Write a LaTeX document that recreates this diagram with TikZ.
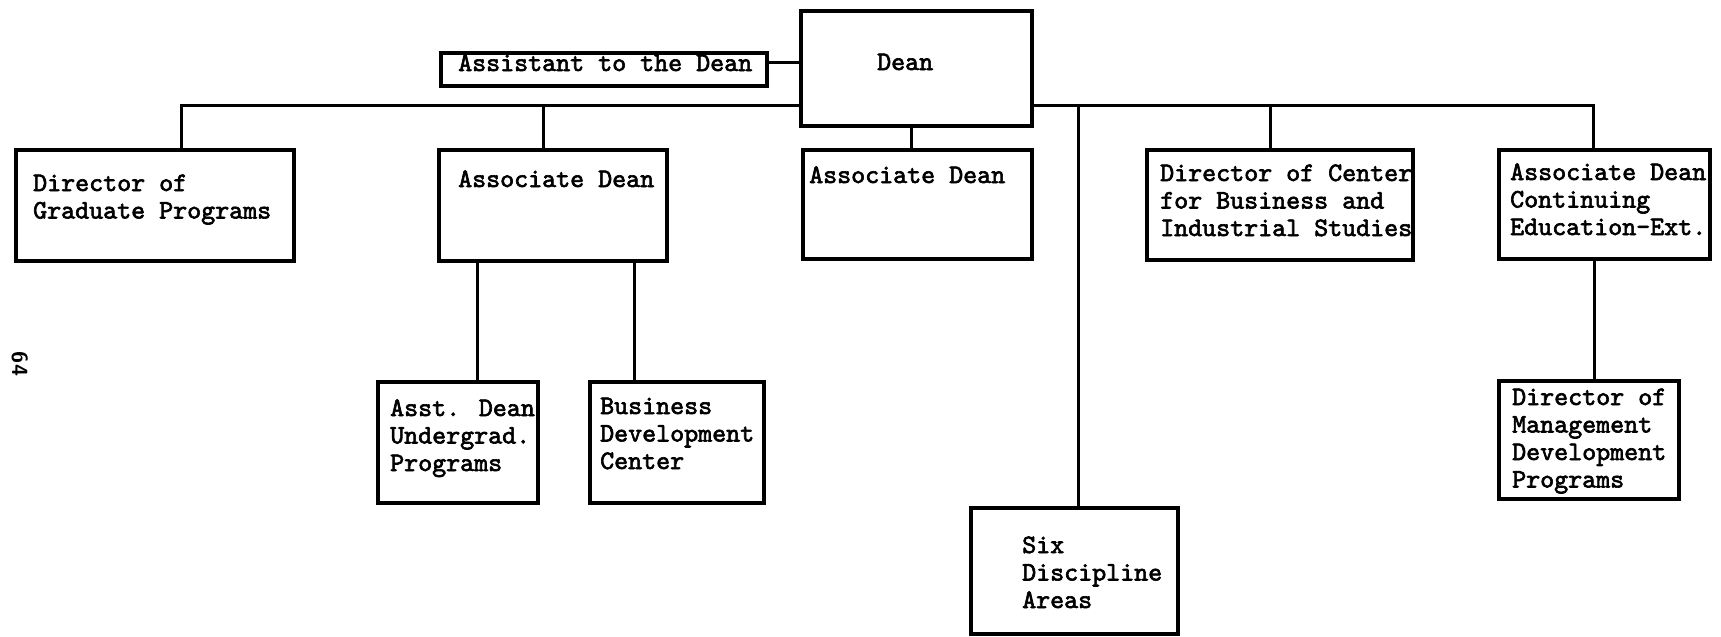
\documentclass[tikz,border=0pt]{standalone}
\usepackage{fontspec}
\newfontfamily\typewriter[FakeBold=2.4]{lmmono10-regular.otf}
\begin{document}
\newcommand\orgfont{\typewriter\fontsize{26.67}{27.5}\selectfont}
\newcommand\ml[1]{\begin{tabular}[t]{@{}l@{}}#1\end{tabular}}
\begin{tikzpicture}[x=1pt,y=-1pt,
  box/.style={draw, line width=3.4pt, anchor=north west, inner sep=0pt, outer sep=0pt},
  lbl/.style={anchor=base west, inner sep=0pt, font=\orgfont},
  link/.style={line width=3pt}]
\useasboundingbox (0,0) rectangle (1721,637);
\coordinate (bus) at (0,105);

% boxes
\node[box, minimum width=326pt, minimum height=33pt]  (asst) at (441,53) {};
\node[box, minimum width=231pt, minimum height=115pt] (dean) at (801,11) {};
\node[box, minimum width=278pt, minimum height=111pt] (dgp)  at (16,150) {};
\node[box, minimum width=228pt, minimum height=111pt] (ad1)  at (439,150) {};
\node[box, minimum width=229pt, minimum height=109pt] (ad2)  at (803,150) {};
\node[box, minimum width=266pt, minimum height=110pt] (dcb)  at (1147,150) {};
\node[box, minimum width=211pt, minimum height=109pt] (adc)  at (1499,150) {};
\node[box, minimum width=160pt, minimum height=121pt] (adu)  at (378,382) {};
\node[box, minimum width=174pt, minimum height=121pt] (bdc)  at (590,382) {};
\node[box, minimum width=207pt, minimum height=126pt] (six)  at (971,508) {};
\node[box, minimum width=180pt, minimum height=118pt] (dmd)  at (1499,381) {};

% texts (first baseline placed below each box's top edge)
\node[lbl] (asst-t) at ([xshift=17pt,yshift=-18pt]asst.north west) {Assistant to the Dean};
\node[lbl] (dean-t) at ([xshift=76pt,yshift=-59pt]dean.north west) {Dean};
\node[lbl] (dgp-t)  at ([xshift=17pt,yshift=-41pt]dgp.north west) {\ml{Director of\\Graduate Programs}};
\node[lbl] (ad1-t)  at ([xshift=19pt,yshift=-37pt]ad1.north west) {Associate Dean};
\node[lbl] (ad2-t)  at ([xshift=6pt,yshift=-33pt]ad2.north west) {Associate Dean};
\node[lbl] (dcb-t)  at ([xshift=13pt,yshift=-31pt]dcb.north west) {\ml{Director of Center\\for Business and\\Industrial Studies}};
\node[lbl] (adc-t)  at ([xshift=11pt,yshift=-30pt]adc.north west) {\ml{Associate Dean\\Continuing\\Education-Ext.}};
\node[lbl] (adu-t)  at ([xshift=12pt,yshift=-34pt]adu.north west) {\ml{Asst. Dean\\Undergrad.\\Programs}};
\node[lbl] (bdc-t)  at ([xshift=10pt,yshift=-32pt]bdc.north west) {\ml{Business\\Development\\Center}};
\node[lbl] (six-t)  at ([xshift=51pt,yshift=-45pt]six.north west) {\ml{Six\\Discipline\\Areas}};
\node[lbl] (dmd-t)  at ([xshift=13pt,yshift=-24pt]dmd.north west) {\ml{Director of\\Management\\Development\\Programs}};

% connectors
\draw[link] ([yshift=7pt]asst.east) -- ([yshift=7pt]asst.east -| dean.west);
\draw[link] (dean.west |- bus) -| ([xshift=165pt]dgp.north west);
\draw[link] ([xshift=104pt]ad1.north west) -- ([xshift=104pt]ad1.north west |- bus);
\draw[link] (dean.east |- bus) -| ([xshift=94pt]adc.north west);
\draw[link] ([xshift=107pt]six.north west) -- ([xshift=107pt]six.north west |- bus);
\draw[link] ([xshift=123pt]dcb.north west) -- ([xshift=123pt]dcb.north west |- bus);
\draw[link] ([xshift=110pt]dean.south west) -- ([xshift=110pt]dean.south west |- ad2.north);
\draw[link] ([xshift=99pt]adu.north west) -- ([xshift=99pt]adu.north west |- ad1.south);
\draw[link] ([xshift=44pt]bdc.north west) -- ([xshift=44pt]bdc.north west |- ad1.south);
\draw[link] ([xshift=95pt]dmd.north west) -- ([xshift=95pt]dmd.north west |- adc.south);

% page number
\node[rotate=-90, inner sep=0pt, font=\sffamily\bfseries\fontsize{22}{22}\selectfont] (pg) at (20,364) {64};
\end{tikzpicture}
\end{document}
